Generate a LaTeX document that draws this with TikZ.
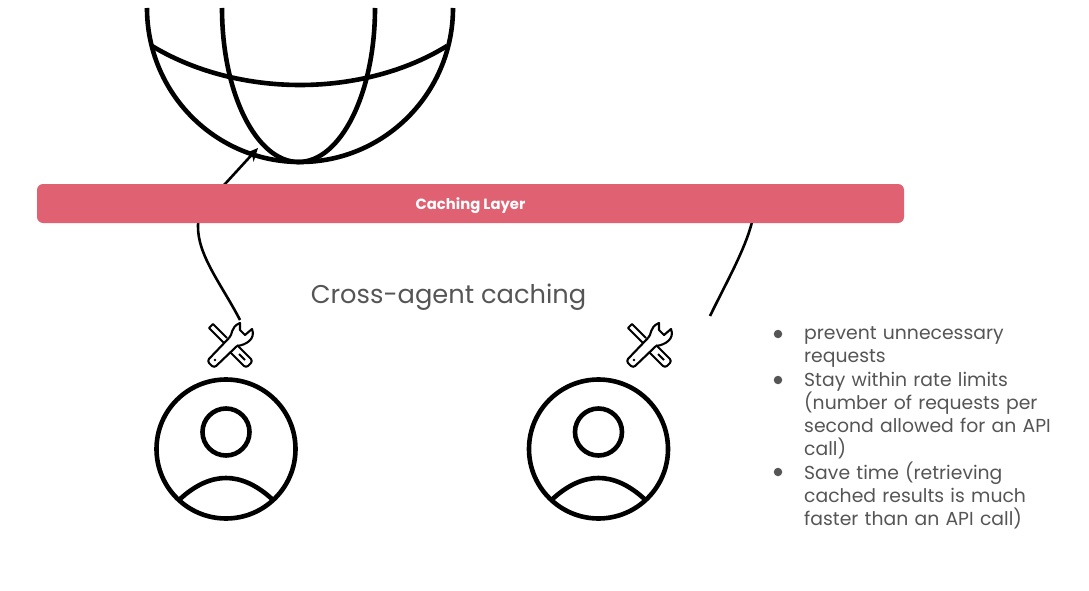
\documentclass[tikz,border=0pt]{standalone}
\usepackage{fontspec}
\setmainfont{Poppins}
\usetikzlibrary{arrows.meta}
\definecolor{barred}{HTML}{E06172}
\definecolor{greytext}{HTML}{555555}
\tikzset{
  thick line/.style={line width=4.6pt},
  link/.style={line width=2.6pt},
  item/.style={anchor=west,inner sep=0pt,text=greytext,font=\fontsize{18.8}{23}\selectfont,align=left,text width=270pt},
  dot/.style={circle,fill=greytext,inner sep=0pt,minimum size=8.5pt},
  pics/person/.style={code={
    \draw[thick line] (0,0) circle[radius=69.5pt];
    \draw[thick line] (0,-17) circle[radius=23.5pt];
    \draw[thick line] (-47,51) .. controls (-30,35) and (-14,29) .. (0,29) .. controls (14,29) and (30,35) .. (47,51);
  }},
  pics/tools/.style={code={
    \begin{scope}[line width=2.1pt,line join=round]
    % screwdriver
    \draw (-6,-2) -- (-10,-6) -- (-13,-9) -- (-21,-17) -- (-17,-21) -- (-9,-13) -- (-6,-10) -- (-3,-7);
    \draw[rounded corners=3pt] (7,0) -- (23,16) -- (16,23) -- (0,7);
    \draw (9,9) -- (15,15);
    % wrench
    \draw[rounded corners=3pt] (-1,-7) -- (-23,16) -- (-16,23) -- (7,1);
    \draw (-1,-7) .. controls (3,-10) and (0,-18) .. (10,-22) -- (10,-15) -- (15,-10) -- (22,-16) .. controls (26,-6) and (16,0) .. (7,1);
    \fill (-15,15) circle[radius=1.3pt];
    \end{scope}
  }},
}
\begin{document}
\begin{tikzpicture}[x=1pt,y=-1pt]
\useasboundingbox (0,0) rectangle (1089,591);
% globe
\draw[thick line] (147,8) arc[start angle=180,end angle=360,x radius=153,y radius=-154];
\draw[thick line] (222,8) arc[start angle=180,end angle=360,x radius=76.5,y radius=-154];
\draw[thick line] (152,46) .. controls (200,75) and (255,85) .. (300,85) .. controls (345,85) and (400,75) .. (447,46);
% connectors
\coordinate (toolsA) at (240,320);
\coordinate (toolsB) at (710,316);
\coordinate (globe) at (258,148);
\coordinate (barA) at (225,184);
\coordinate (barB) at (752,222);
\draw[link,-{Stealth[length=13pt,width=12pt,inset=4pt]}] (toolsA) .. controls (222,285) and (197,255) .. (198,225) .. controls (199,208) and (212,198) .. (barA) -- (globe);
\draw[link] (toolsB) .. controls (725,285) and (745,250) .. (barB);
% layer
\node[fill=barred,rounded corners=6pt,minimum width=867pt,minimum height=39pt,inner sep=0pt] (layer) at (470.5,203.5) {};
\node[text=white,font=\fontsize{14.8}{17}\selectfont\bfseries] (layerlabel) at (470.5,206) {Caching Layer};
\node[text=greytext,font=\fontsize{25.7}{30}\selectfont] (title) at (448.5,297) {Cross-agent caching};
% agents
\pic at (226,449) {person};
\pic at (598.5,449) {person};
\pic at (230,345) {tools};
\pic at (649,345) {tools};
% notes
\node[dot] (dotA) at (778,334) {};
\node[dot] (dotB) at (778,380) {};
\node[dot] (dotC) at (778,472) {};
\node[item] (noteA) at (804,347) {prevent unnecessary\\requests};
\node[item] (noteB) at (804,416) {Stay within rate limits\\(number of requests per\\second allowed for an API\\call)};
\node[item] (noteC) at (804,495) {Save time (retrieving\\cached results is much\\faster than an API call)};
\end{tikzpicture}
\end{document}
